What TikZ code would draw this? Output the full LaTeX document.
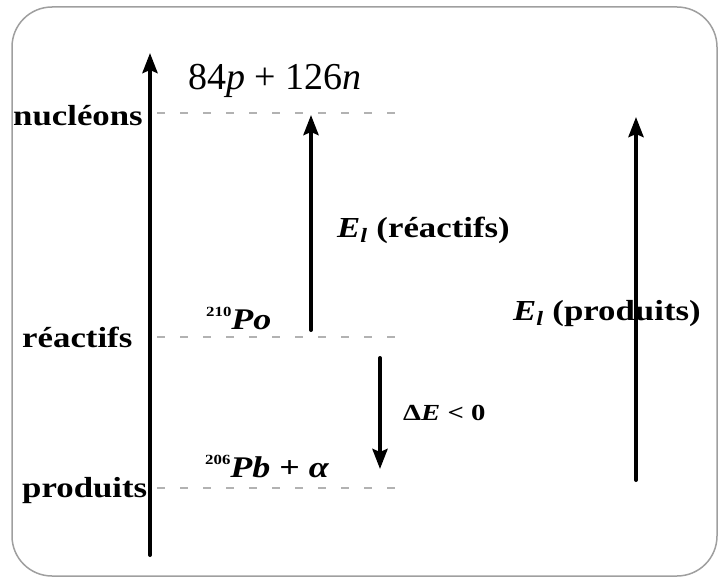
\documentclass[tikz,border=0pt]{standalone}
\usepackage{fontspec}
\usepackage{graphicx}
\setmainfont{Liberation Serif}
\usetikzlibrary{arrows.meta}
\newcommand\sx[1]{\scalebox{1.2}[1]{#1}}
\newcommand\isosup[1]{\raisebox{13pt}{\fontsize{14}{14}\selectfont\bfseries #1}}
\begin{document}
\begin{tikzpicture}[x=1pt,y=-1pt,
  lab/.style={anchor=base west,inner sep=0pt,font=\fontsize{29}{31}\selectfont\bfseries},
  big/.style={anchor=base west,inner sep=0pt,font=\fontsize{38}{40}\selectfont},
  small/.style={anchor=base west,inner sep=0pt,font=\fontsize{23}{25}\selectfont\bfseries},
  axis/.style={line width=4pt,line cap=round,-{Stealth[length=20pt,width=15pt,inset=3pt]}},
  level/.style={gray!60,line width=1.2pt,dash pattern=on 8pt off 15pt},
  frame/.style={draw=gray!75,line width=1.5pt,rounded corners=40pt}]
\useasboundingbox (0,0) rectangle (724,578);
\draw[frame] (12,7) rectangle (717,576);

% coordinates
\coordinate (axB) at (150,555);
\coordinate (axT) at (150,53);
\coordinate (nucL) at (157,113);
\coordinate (nucR) at (408,113);
\coordinate (reaL) at (157,337);
\coordinate (reaR) at (408,337);
\coordinate (proL) at (157,488);
\coordinate (proR) at (408,488);
\coordinate (erB) at (311,330);
\coordinate (erT) at (311,115);
\coordinate (deT) at (380,358);
\coordinate (deB) at (380,469);
\coordinate (epB) at (636,480);
\coordinate (epT) at (636,117);

% levels
\draw[level] (nucL) -- (nucR);
\draw[level] (reaL) -- (reaR);
\draw[level] (proL) -- (proR);

% labels
\node[lab] (nuc) at (13,125) {\sx{nucléons}};
\node[lab] (rea) at (22,347) {\sx{réactifs}};
\node[lab] (pro) at (22,497) {\sx{produits}};
\node[big] (np) at (188,90) {84\textit{p} + 126\textit{n}};
\node[lab] (er) at (337,237) {\sx{\textit{E}\textsubscript{\textit{l}} (réactifs)}};
\node[lab] (ep) at (513,320) {\sx{\textit{E}\textsubscript{\textit{l}} (produits)}};
\node[lab,font=\fontsize{30}{32}\selectfont\bfseries] (po) at (206,329) {\sx{\isosup{210}\textit{Po}}};
\node[lab,font=\fontsize{30}{32}\selectfont\bfseries] (pb) at (205,477) {\sx{\isosup{206}\textit{Pb} + \textit{α}}};
\node[small] (de) at (403,420) {\scalebox{1.25}[1]{Δ\textit{E} < 0}};

% arrows
\draw[axis] (axB) -- (axT);
\draw[axis] (erB) -- (erT);
\draw[axis] (deT) -- (deB);
\draw[axis] (epB) -- (epT);
\end{tikzpicture}
\end{document}
